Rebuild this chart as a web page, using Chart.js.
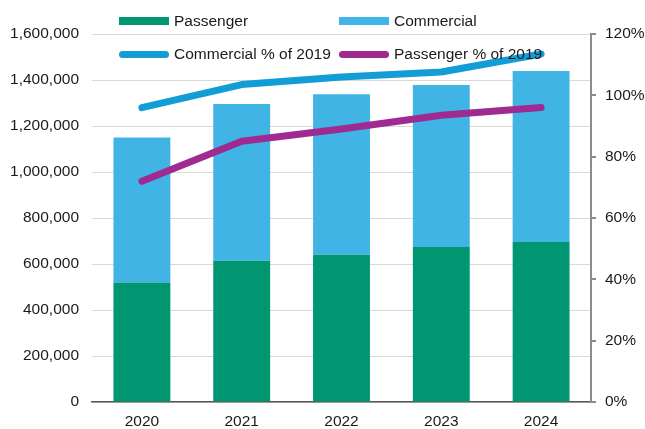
<!DOCTYPE html>
<html>
<head>
<meta charset="utf-8">
<script src="https://cdn.jsdelivr.net/npm/chart.js@4"></script>
<style>
  html, body { margin: 0; padding: 0; background: #fff; }
  #wrap { position: relative; width: 645px; height: 429px; }
  #legend { position: absolute; left: 0; top: 0; font: 15.5px "Liberation Sans", Arial, sans-serif; color: #1a1a1a; }
  .item { position: absolute; display: flex; align-items: center; white-space: nowrap; }
  .sw { margin-right: 5px; }
</style>
</head>
<body>
<div id="wrap">
  <canvas id="chart" width="645" height="429"></canvas>
  <div id="legend"></div>
</div>
<script>
const years = ["2020", "2021", "2022", "2023", "2024"];
const passenger = [520000, 614000, 640000, 674000, 696000];
const commercial = [630000, 682000, 698000, 704000, 743000];
const commercialPct = [96, 103.5, 106, 107.6, 113.5];
const passengerPct = [72, 85, 89, 93.5, 96];
const leftTicks = [0, 200000, 400000, 600000, 800000, 1000000, 1200000, 1400000, 1600000];
const rightTicks = [0, 20, 40, 60, 80, 100, 120];

const font = { family: "'Liberation Sans', Arial, sans-serif", size: 15.5 };
const textColor = "#1a1a1a";

const chart = new Chart(document.getElementById("chart"), {
    data: {
        labels: years,
        datasets: [
            {
                type: "bar",
                label: "Passenger",
                data: passenger,
                backgroundColor: "#009672",
                yAxisID: "y",
                order: 2,
                barPercentage: 0.57,
                categoryPercentage: 1,
            },
            {
                type: "bar",
                label: "Commercial",
                data: commercial,
                backgroundColor: "#41b4e6",
                yAxisID: "y",
                order: 2,
                barPercentage: 0.57,
                categoryPercentage: 1,
            },
            {
                type: "line",
                label: "Commercial % of 2019",
                data: commercialPct,
                borderColor: "#129dd7",
                borderWidth: 7,
                borderCapStyle: "round",
                borderJoinStyle: "round",
                pointRadius: 0,
                yAxisID: "y1",
                order: 1,
            },
            {
                type: "line",
                label: "Passenger % of 2019",
                data: passengerPct,
                borderColor: "#9e2a92",
                borderWidth: 7,
                borderCapStyle: "round",
                borderJoinStyle: "round",
                pointRadius: 0,
                yAxisID: "y1",
                order: 0,
            },
        ],
    },
    options: {
        responsive: false,
        animation: false,
        layout: { padding: { top: 34, left: 0, right: 0, bottom: 0 } },
        plugins: {
            legend: { display: false },
            tooltip: { enabled: false },
        },
        scales: {
            x: {
                stacked: true,
                grid: { display: false, drawTicks: false },
                border: { color: "#595959", width: 1.5 },
                ticks: { font: font, color: textColor, padding: 10 },
                afterFit: (s) => { s.height = 27; },
            },
            y: {
                position: "left",
                stacked: true,
                min: 0,
                max: 1600000,
                afterBuildTicks: (s) => { s.ticks = leftTicks.map(v => ({ value: v })); },
                grid: { color: "#d9d9d9", drawTicks: false },
                border: { display: false },
                ticks: {
                    font: font,
                    color: textColor,
                    padding: 13,
                    callback: (v) => v.toLocaleString("en-US"),
                },
                afterFit: (s) => { s.width = 92; },
            },
            y1: {
                position: "right",
                stacked: false,
                min: 0,
                max: 120,
                afterBuildTicks: (s) => { s.ticks = rightTicks.map(v => ({ value: v })); },
                grid: { drawOnChartArea: false, drawTicks: true, tickLength: 5, color: "#8c8c8c", lineWidth: 2 },
                border: { color: "#8c8c8c", width: 2 },
                ticks: {
                    font: font,
                    color: textColor,
                    padding: 9,
                    callback: (v) => v + "%",
                },
                afterFit: (s) => { s.width = 54; },
            },
        },
    },
});

// legend: two rows laid over the top of the plot
const legendPos = [
    { x: 119, y: 21 },
    { x: 339, y: 21 },
    { x: 119, y: 54 },
    { x: 339, y: 54 },
];
const legend = document.getElementById("legend");
chart.data.datasets.forEach((ds, i) => {
    const p = legendPos[i];
    const item = document.createElement("div");
    item.className = "item";
    item.style.left = p.x + "px";
    item.style.top = (p.y - 10) + "px";
    item.style.height = "20px";
    const sw = document.createElement("span");
    sw.className = "sw";
    sw.style.width = "50px";
    if (ds.type === "bar") {
        sw.style.height = "8px";
        sw.style.background = ds.backgroundColor;
    } else {
        sw.style.height = "7px";
        sw.style.borderRadius = "4px";
        sw.style.background = ds.borderColor;
    }
    const tx = document.createElement("span");
    tx.textContent = ds.label;
    item.appendChild(sw);
    item.appendChild(tx);
    legend.appendChild(item);
});
</script>
</body>
</html>
